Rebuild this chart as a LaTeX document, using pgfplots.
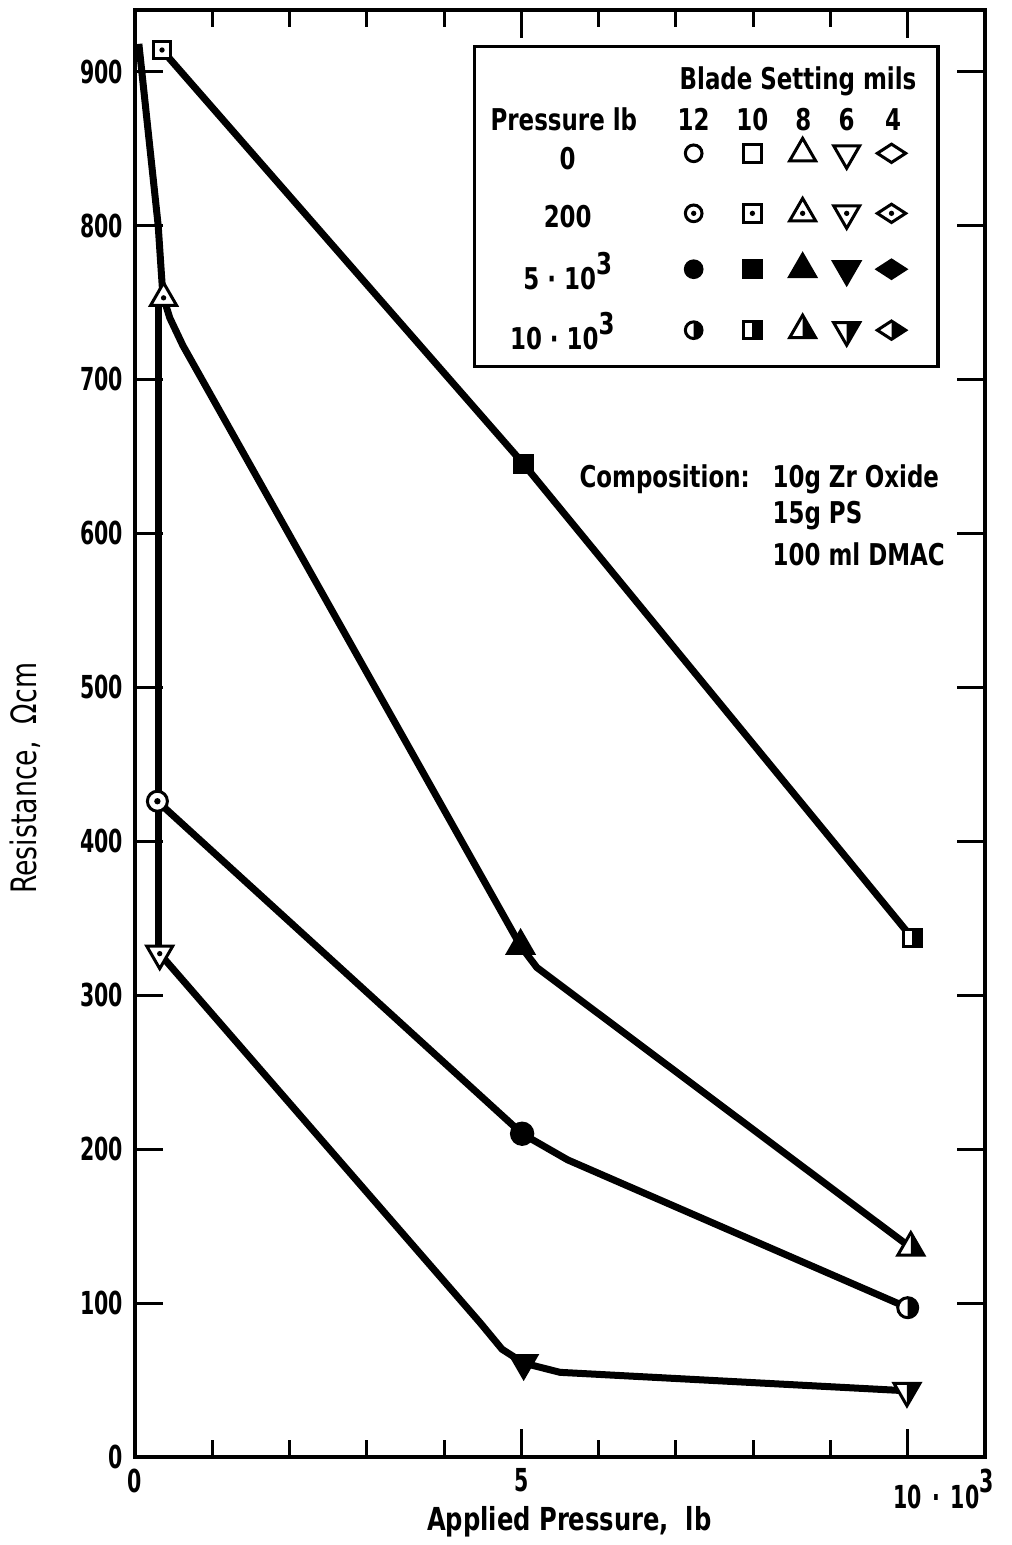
\documentclass[border=0pt]{standalone}
\usepackage{pgfplots}
\pgfplotsset{compat=1.18}
\usepackage{fontspec}
\setmainfont{DejaVu Sans Condensed}[FakeStretch=0.85]
\newfontfamily\tickfont{DejaVu Sans Condensed}[FakeStretch=0.72]

% marker shapes (open, dotted, filled, right half filled)
\newcommand\circpath{\pgfpathcircle{\pgfpointorigin}{\pgfplotmarksize}}
\newcommand\dotpath{\pgfpathcircle{\pgfpointorigin}{0.32\pgfplotmarksize}\pgfsetfillcolor{black}\pgfusepathqfill}
\newcommand\sqpath{\pgfpathrectangle{\pgfqpoint{-1.05\pgfplotmarksize}{-1.05\pgfplotmarksize}}{\pgfqpoint{2.1\pgfplotmarksize}{2.1\pgfplotmarksize}}}
\newcommand\tripath[1]{%
  \pgfpathmoveto{\pgfqpoint{0pt}{#11.8\pgfplotmarksize}}%
  \pgfpathlineto{\pgfqpoint{1.559\pgfplotmarksize}{-#10.9\pgfplotmarksize}}%
  \pgfpathlineto{\pgfqpoint{-1.559\pgfplotmarksize}{-#10.9\pgfplotmarksize}}%
  \pgfpathclose}
\newcommand\trihalf[1]{%
  \pgfpathmoveto{\pgfqpoint{0pt}{#11.8\pgfplotmarksize}}%
  \pgfpathlineto{\pgfqpoint{1.559\pgfplotmarksize}{-#10.9\pgfplotmarksize}}%
  \pgfpathlineto{\pgfqpoint{0pt}{-#10.9\pgfplotmarksize}}%
  \pgfpathclose}
\newcommand\diapath{%
  \pgfpathmoveto{\pgfqpoint{0pt}{1.1\pgfplotmarksize}}%
  \pgfpathlineto{\pgfqpoint{1.7\pgfplotmarksize}{0pt}}%
  \pgfpathlineto{\pgfqpoint{0pt}{-1.1\pgfplotmarksize}}%
  \pgfpathlineto{\pgfqpoint{-1.7\pgfplotmarksize}{0pt}}%
  \pgfpathclose}

\pgfdeclareplotmark{co}{\circpath\pgfsetfillcolor{white}\pgfusepathqfillstroke}
\pgfdeclareplotmark{cd}{\circpath\pgfsetfillcolor{white}\pgfusepathqfillstroke\dotpath}
\pgfdeclareplotmark{cf}{\circpath\pgfsetfillcolor{black}\pgfusepathqfillstroke}
\pgfdeclareplotmark{ch}{\circpath\pgfsetfillcolor{white}\pgfusepathqfill
  \pgfpathmoveto{\pgfqpoint{0pt}{\pgfplotmarksize}}\pgfpatharc{90}{-90}{\pgfplotmarksize}\pgfpathclose
  \pgfsetfillcolor{black}\pgfusepathqfill\circpath\pgfusepathqstroke}

\pgfdeclareplotmark{so}{\sqpath\pgfsetfillcolor{white}\pgfusepathqfillstroke}
\pgfdeclareplotmark{sd}{\sqpath\pgfsetfillcolor{white}\pgfusepathqfillstroke\dotpath}
\pgfdeclareplotmark{sf}{\sqpath\pgfsetfillcolor{black}\pgfusepathqfillstroke}
\pgfdeclareplotmark{sh}{\sqpath\pgfsetfillcolor{white}\pgfusepathqfill
  \pgfpathrectangle{\pgfqpoint{0pt}{-1.05\pgfplotmarksize}}{\pgfqpoint{1.05\pgfplotmarksize}{2.1\pgfplotmarksize}}%
  \pgfsetfillcolor{black}\pgfusepathqfill\sqpath\pgfusepathqstroke}

\pgfdeclareplotmark{to}{\tripath{}\pgfsetfillcolor{white}\pgfusepathqfillstroke}
\pgfdeclareplotmark{td}{\tripath{}\pgfsetfillcolor{white}\pgfusepathqfillstroke\dotpath}
\pgfdeclareplotmark{tf}{\tripath{}\pgfsetfillcolor{black}\pgfusepathqfillstroke}
\pgfdeclareplotmark{th}{\tripath{}\pgfsetfillcolor{white}\pgfusepathqfill
  \trihalf{}\pgfsetfillcolor{black}\pgfusepathqfill\tripath{}\pgfusepathqstroke}

\pgfdeclareplotmark{vo}{\tripath{-}\pgfsetfillcolor{white}\pgfusepathqfillstroke}
\pgfdeclareplotmark{vd}{\tripath{-}\pgfsetfillcolor{white}\pgfusepathqfillstroke\dotpath}
\pgfdeclareplotmark{vf}{\tripath{-}\pgfsetfillcolor{black}\pgfusepathqfillstroke}
\pgfdeclareplotmark{vh}{\tripath{-}\pgfsetfillcolor{white}\pgfusepathqfill
  \trihalf{-}\pgfsetfillcolor{black}\pgfusepathqfill\tripath{-}\pgfusepathqstroke}

\pgfdeclareplotmark{do}{\diapath\pgfsetfillcolor{white}\pgfusepathqfillstroke}
\pgfdeclareplotmark{dd}{\diapath\pgfsetfillcolor{white}\pgfusepathqfillstroke\dotpath}
\pgfdeclareplotmark{df}{\diapath\pgfsetfillcolor{black}\pgfusepathqfillstroke}
\pgfdeclareplotmark{dh}{\diapath\pgfsetfillcolor{white}\pgfusepathqfill
  \pgfpathmoveto{\pgfqpoint{0pt}{1.1\pgfplotmarksize}}\pgfpathlineto{\pgfqpoint{1.7\pgfplotmarksize}{0pt}}%
  \pgfpathlineto{\pgfqpoint{0pt}{-1.1\pgfplotmarksize}}\pgfpathclose
  \pgfsetfillcolor{black}\pgfusepathqfill\diapath\pgfusepathqstroke}

\newcommand\cube{\raisebox{0.5em}{3}}

\begin{document}
\begin{tikzpicture}[font=\bfseries\fontsize{9}{11}\selectfont]
\begin{axis}[
  scale only axis, width=255pt, height=434.1pt,
  xmin=0, xmax=11, ymin=0, ymax=940,
  xtick={0,5,10},
  xticklabels={0,5,{10\rlap{\,\,·\,\,10\cube}}},
  minor xtick={1,2,3,4,6,7,8,9},
  ytick={0,100,...,900},
  tick align=inside,
  major tick length=8.5pt, minor tick length=5pt,
  every tick/.style={black, line width=0.9pt},
  axis line style={line width=1.2pt},
  /pgf/number format/assume math mode=true,
  tick label style={font=\tickfont\bfseries\fontsize{9.5}{11}\selectfont},
  xlabel={Applied Pressure,\ \ lb},
  ylabel={Resistance,\ \ Ωcm},
  xlabel style={at={(rel axis cs:0.511,-0.0449)}, anchor=center, font=\bfseries\fontsize{9.5}{11}\selectfont},
  ylabel style={at={(rel axis cs:-0.1294,0.469)}, anchor=center, font=\mdseries\fontsize{10.5}{12}\selectfont},
  mark size=2.5pt,
]
% curves
\addplot[black, line width=2.1pt, line join=round] coordinates {(0.35,914) (5.03,645) (10.06,337)};
\addplot[black, line width=2.1pt, line join=round] coordinates {(0.05,918) (0.3,800) (0.36,755)};
\addplot[black, line width=2.1pt] coordinates {(0.3,753) (0.3,330)};
\addplot[black, line width=2.1pt, line join=round] coordinates {(0.37,753) (0.45,740) (0.62,722) (4.99,332) (5.2,318) (10.04,136)};
\addplot[black, line width=2.1pt, line join=round] coordinates {(0.29,426) (5.01,210) (5.6,193) (10.0,97)};
\addplot[black, line width=2.1pt, line join=round] coordinates {(0.32,327) (4.47,87) (4.75,70) (5.03,61) (5.5,55) (9.99,43)};

% data points
\addplot[only marks, black, mark=sd, mark options={line width=0.9pt}] coordinates {(0.35,914)};
\addplot[only marks, black, mark=sf, mark options={line width=0.9pt}] coordinates {(5.03,645)};
\addplot[only marks, black, mark=sh, mark options={line width=0.9pt}] coordinates {(10.06,337)};
\addplot[only marks, black, mark=td, mark options={line width=0.9pt}] coordinates {(0.37,753)};
\addplot[only marks, black, mark=tf, mark options={line width=0.9pt}] coordinates {(4.99,332)};
\addplot[only marks, black, mark=th, mark options={line width=0.9pt}] coordinates {(10.04,136)};
\addplot[only marks, black, mark=cd, mark size=3pt, mark options={line width=0.9pt}] coordinates {(0.29,426)};
\addplot[only marks, black, mark=cf, mark size=3.2pt, mark options={line width=0.9pt}] coordinates {(5.01,210)};
\addplot[only marks, black, mark=ch, mark size=3pt, mark options={line width=0.9pt}] coordinates {(10.0,97)};
\addplot[only marks, black, mark=vd, mark options={line width=0.9pt}] coordinates {(0.32,327)};
\addplot[only marks, black, mark=vf, mark options={line width=0.9pt}] coordinates {(5.03,61)};
\addplot[only marks, black, mark=vh, mark options={line width=0.9pt}] coordinates {(9.99,43)};

% key box
\draw[line width=1pt] (axis cs:4.39,708.6) rectangle (axis cs:10.39,916.3);
\node at (axis cs:8.58,893.6) {Blade Setting mils};
\node at (axis cs:5.55,868.9) {Pressure lb};
\node at (axis cs:7.23,868.9) {12};
\node at (axis cs:7.99,868.9) {10};
\node at (axis cs:8.65,868.9) {8};
\node at (axis cs:9.21,868.9) {6};
\node at (axis cs:9.81,868.9) {4};
\node at (axis cs:5.60,843.6) {0};
\node at (axis cs:5.60,806.0) {200};
\node at (axis cs:5.60,770.3) {5 · 10\cube};
\node at (axis cs:5.53,731.3) {10 · 10\cube};
\addplot[only marks, black, mark=co, mark options={line width=0.9pt}] coordinates {(7.23,846.9)};
\addplot[only marks, black, mark=so, mark options={line width=0.9pt}] coordinates {(7.99,846.9)};
\addplot[only marks, black, mark=to, mark options={line width=0.9pt}] coordinates {(8.64,846.9)};
\addplot[only marks, black, mark=vo, mark options={line width=0.9pt}] coordinates {(9.21,846.9)};
\addplot[only marks, black, mark=do, mark options={line width=0.9pt}] coordinates {(9.79,846.9)};
\addplot[only marks, black, mark=cd, mark options={line width=0.9pt}] coordinates {(7.23,807.9)};
\addplot[only marks, black, mark=sd, mark options={line width=0.9pt}] coordinates {(7.99,807.9)};
\addplot[only marks, black, mark=td, mark options={line width=0.9pt}] coordinates {(8.64,807.9)};
\addplot[only marks, black, mark=vd, mark options={line width=0.9pt}] coordinates {(9.21,807.9)};
\addplot[only marks, black, mark=dd, mark options={line width=0.9pt}] coordinates {(9.79,807.9)};
\addplot[only marks, black, mark=cf, mark options={line width=0.9pt}] coordinates {(7.23,771.6)};
\addplot[only marks, black, mark=sf, mark options={line width=0.9pt}] coordinates {(7.99,771.6)};
\addplot[only marks, black, mark=tf, mark options={line width=0.9pt}] coordinates {(8.64,771.6)};
\addplot[only marks, black, mark=vf, mark options={line width=0.9pt}] coordinates {(9.21,771.6)};
\addplot[only marks, black, mark=df, mark options={line width=0.9pt}] coordinates {(9.79,771.6)};
\addplot[only marks, black, mark=ch, mark options={line width=0.9pt}] coordinates {(7.23,732)};
\addplot[only marks, black, mark=sh, mark options={line width=0.9pt}] coordinates {(7.99,732)};
\addplot[only marks, black, mark=th, mark options={line width=0.9pt}] coordinates {(8.64,732)};
\addplot[only marks, black, mark=vh, mark options={line width=0.9pt}] coordinates {(9.21,732)};
\addplot[only marks, black, mark=dh, mark options={line width=0.9pt}] coordinates {(9.79,732)};

% composition note
\node[anchor=west] at (axis cs:5.60,635.3) {Composition:};
\node[anchor=west] at (axis cs:8.10,635.3) {10g Zr Oxide};
\node[anchor=west] at (axis cs:8.10,611.3) {15g PS};
\node[anchor=west] at (axis cs:8.10,586.6) {100 ml DMAC};
\end{axis}
\pgfresetboundingbox
\path[use as bounding box] ([xshift=-40.5pt,yshift=-26.4pt]current axis.south west) rectangle ([xshift=7.8pt,yshift=3pt]current axis.north east);
\end{tikzpicture}
\end{document}
